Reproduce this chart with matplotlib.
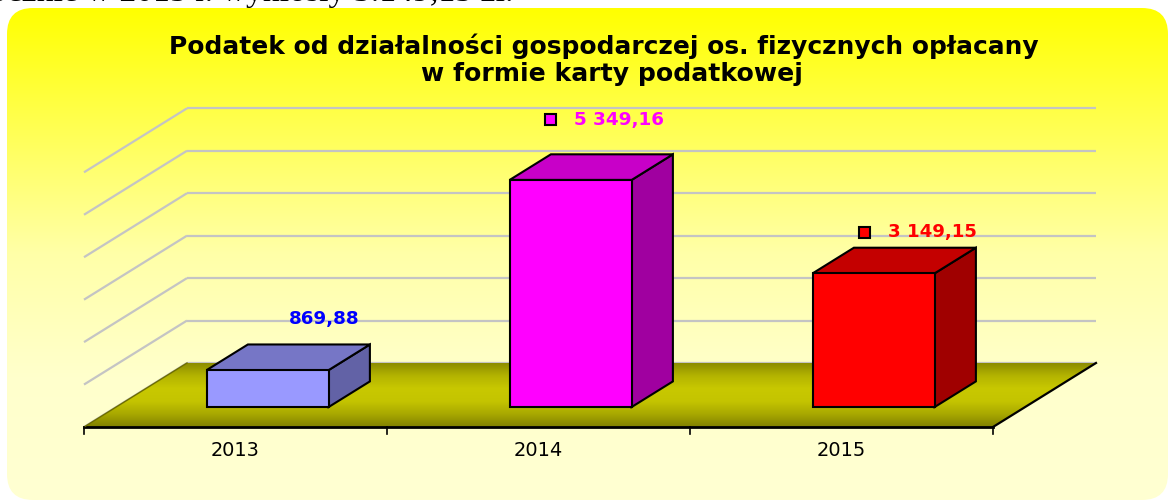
import numpy as np
import matplotlib
matplotlib.use("Agg")
import matplotlib.pyplot as plt
from matplotlib.patches import Polygon, FancyBboxPatch, Rectangle
from matplotlib.colors import LinearSegmentedColormap

# ---------------- data ----------------
years = ["2013", "2014", "2015"]
values = [869.88, 5349.16, 3149.15]
value_labels = ["869,88", "5 349,16", "3 149,15"]
grid_values = [0, 1000, 2000, 3000, 4000, 5000, 6000]
title_lines = ["Podatek od działalności gospodarczej os. fizycznych opłacany",
               "w formie karty podatkowej"]
top_text = "ocznie w 2015 r. wyniosły 3.149,15 zł."

# ---------------- style / layout ----------------
front_cols = ["#9999FF", "#FF00FF", "#FF0000"]
top_cols = ["#7676C6", "#C800C8", "#C40000"]
side_cols = ["#6262A6", "#A000A0", "#A00000"]
label_cols = ["#0000FF", "#FF00FF", "#FF0000"]
label_offsets = [(56, -51), (48, -60), (59, -41)]
show_key = [False, True, True]
FONT = "DejaVu Sans"

W, H = 1171, 503
fig = plt.figure(figsize=(W / 100, H / 100), dpi=100)
ax = fig.add_axes([0, 0, 1, 1])
ax.set_xlim(0, W)
ax.set_ylim(H, 0)
ax.axis("off")
renderer = fig.canvas.get_renderer()


def fit_text(x, y, s, width, size0=12, **kw):
    t = ax.text(x, y, s, fontsize=size0, **kw)
    w = t.get_window_extent(renderer=renderer).width
    t.set_fontsize(size0 * width / w)
    return t


# value scale (pixels per unit)
k = 42.45 / 1000.0
floor_x0, floor_y0 = 84, 427          # front-left corner of floor
cat_w = 303
depth = np.array([103.0, -64.0])
n = len(years)
back_x0 = floor_x0 + depth[0]
back_y0 = floor_y0 + depth[1]
floor_x1 = floor_x0 + cat_w * n

# background rounded box with gradient
bg = FancyBboxPatch((7, 8), 1161, 492, boxstyle="round,pad=0,rounding_size=26",
                    facecolor="none", edgecolor="none", zorder=0)
ax.add_patch(bg)
bg_cmap = LinearSegmentedColormap.from_list("bg", ["#FFFF00", "#FFFF55", "#FFFFA8", "#FFFFCC", "#FFFFD2"])
grad = np.linspace(0, 1, 256).reshape(-1, 1)
im = ax.imshow(grad, cmap=bg_cmap, extent=(7, 1168, 500, 8), aspect="auto", zorder=0)
im.set_clip_path(bg)

# cut-off text at top (as in the reference)
fit_text(-10, 0.5, top_text, 522, family="Liberation Serif", ha="left",
         va="baseline", color="black", zorder=5)

# gridlines on back and left wall
for gv in grid_values:
    yb = back_y0 - gv * k
    ax.plot([back_x0, back_x0 + cat_w * n], [yb, yb], color="#C4C4C4", lw=1.6, zorder=1,
            solid_capstyle="butt")
    ax.plot([back_x0, floor_x0], [yb, yb - depth[1]], color="#C4C4C4", lw=1.6, zorder=1,
            solid_capstyle="butt")

# floor with gradient
floor_pts = [(floor_x0, floor_y0), (floor_x1, floor_y0),
             (floor_x1 + depth[0], back_y0), (back_x0, back_y0)]
floor = Polygon(floor_pts, closed=True, facecolor="none", edgecolor="none", zorder=2)
ax.add_patch(floor)
fl_cmap = LinearSegmentedColormap.from_list("fl", ["#8C8C00", "#B4B400", "#C8C800", "#C4C400", "#A8A800", "#808000"])
fim = ax.imshow(grad, cmap=fl_cmap, extent=(floor_x0 - 5, floor_x1 + depth[0] + 5, floor_y0, back_y0),
                aspect="auto", zorder=2)
fim.set_clip_path(floor)
ax.plot([floor_x0, floor_x1], [floor_y0, floor_y0], color="black", lw=2, zorder=3)
ax.plot([floor_x1, floor_x1 + depth[0]], [floor_y0, back_y0], color="black", lw=1.6, zorder=3)
ax.plot([floor_x0, back_x0], [floor_y0, back_y0], color="#6E6E00", lw=1.0, zorder=3)

# ticks and category labels
for i in range(n + 1):
    xt = floor_x0 + cat_w * i
    ax.plot([xt, xt], [floor_y0, floor_y0 + 7], color="black", lw=1.2, zorder=3)
for i, yr in enumerate(years):
    fit_text(floor_x0 + cat_w * (i + 0.5), 450, yr, 49, family=FONT,
             ha="center", va="center", color="black", zorder=5)

# bars
front_frac = 20 / 64.0
bar_frac = 0.40
bar_w = 122
bdx, bdy = depth * bar_frac
label_widths = [70, 90, 89]
for i, v in enumerate(values):
    cx = floor_x0 + cat_w * (i + 0.5) + depth[0] * front_frac
    yb = floor_y0 + depth[1] * front_frac
    yt = yb - v * k
    x0, x1 = cx - bar_w / 2, cx + bar_w / 2
    side = Polygon([(x1, yb), (x1 + bdx, yb + bdy), (x1 + bdx, yt + bdy), (x1, yt)],
                   closed=True, facecolor=side_cols[i], edgecolor="black", lw=1.5, zorder=4)
    top = Polygon([(x0, yt), (x1, yt), (x1 + bdx, yt + bdy), (x0 + bdx, yt + bdy)],
                  closed=True, facecolor=top_cols[i], edgecolor="black", lw=1.5, zorder=4)
    front = Polygon([(x0, yb), (x1, yb), (x1, yt), (x0, yt)],
                    closed=True, facecolor=front_cols[i], edgecolor="black", lw=1.5, zorder=4)
    for p in (side, top, front):
        p.set_joinstyle("miter")
        ax.add_patch(p)
    lx, ly = cx + label_offsets[i][0], yt + label_offsets[i][1]
    t = fit_text(lx, ly, value_labels[i], label_widths[i], fontweight="bold",
                 family=FONT, ha="center", va="center", color=label_cols[i], zorder=6)
    if show_key[i]:
        left = lx - label_widths[i] / 2
        ax.add_patch(Rectangle((left - 29, ly - 5.5), 11, 11, facecolor=label_cols[i],
                               edgecolor="black", lw=1.5, zorder=6))

# title
fit_text(604, 46, title_lines[0], 865, fontweight="bold", family=FONT,
         ha="center", va="center", color="black", zorder=6)
fit_text(612, 74, title_lines[1], 380, fontweight="bold", family=FONT,
         ha="center", va="center", color="black", zorder=6)

fig.savefig("out.png", dpi=100, facecolor="white")
